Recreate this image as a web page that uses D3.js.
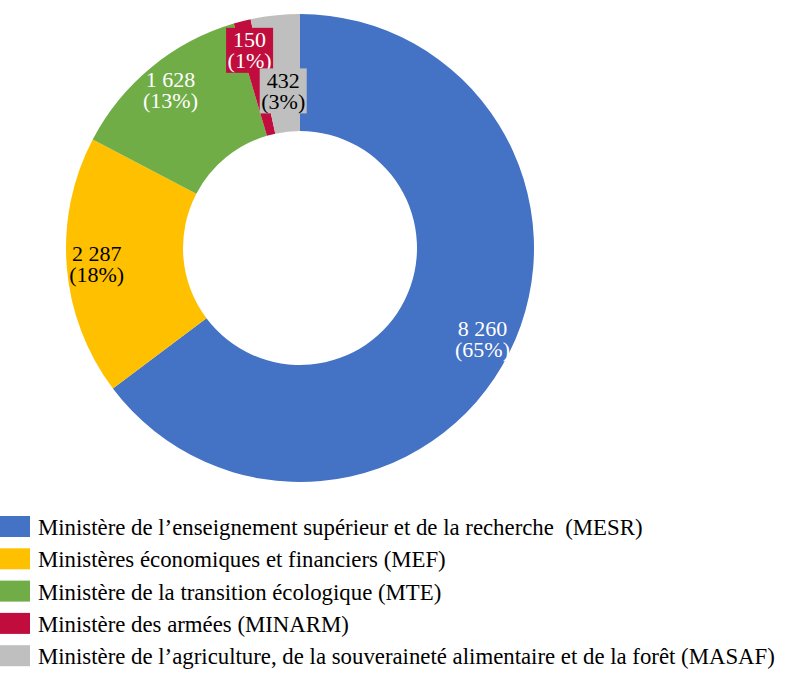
<!DOCTYPE html>
<html>
<head>
<meta charset="utf-8">
<script src="https://cdn.jsdelivr.net/npm/d3@7"></script>
<style>
  body { margin: 0; background: #fff; }
  svg text { font-family: "Liberation Serif", serif; }
</style>
</head>
<body>
<svg id="chart"></svg>
<script>
// Effectifs par ministère
const codes = ["MESR", "MEF", "MTE", "MINARM", "MASAF"];
const labels = [
    "Ministère de l\u2019enseignement supérieur et de la recherche  (MESR)",
    "Ministères économiques et financiers (MEF)",
    "Ministère de la transition écologique (MTE)",
    "Ministère des armées (MINARM)",
    "Ministère de l\u2019agriculture, de la souveraineté alimentaire et de la forêt (MASAF)",
];
const values = [8260, 2287, 1628, 150, 432];
const colors = ["#4472C4", "#FFC000", "#70AD47", "#C00D3E", "#BFBFBF"];
const labelColors = ["#fff", "#000", "#fff", "#fff", "#000"];

const width = 787;
const height = 681;
const cx = 300, cy = 248;
const outerR = 234, innerR = 117;

const svg = d3.select("#chart").attr("width", width).attr("height", height);

const data = codes.map((c, i) => ({ code: c, label: labels[i], value: values[i], i }));
const total = d3.sum(values);

const pie = d3.pie().sort(null).value(d => d.value);
const arcs = pie(data);

const arc = d3.arc().innerRadius(innerR).outerRadius(outerR);

const g = svg.append("g").attr("transform", `translate(${cx},${cy})`);

g.selectAll("path")
    .data(arcs)
    .enter()
    .append("path")
    .attr("d", arc)
    .attr("fill", d => colors[d.data.i]);

// étiquettes : rayon de placement (MASAF rapproché du centre pour éviter le chevauchement)
const labelR = d => (d.data.code === "MASAF" ? 158 : 204);
const boxed = ["MINARM", "MASAF"];
const fmt = v => d3.format(",")(v).replace(/,/g, " ");

arcs.forEach(d => {
    const a = (d.startAngle + d.endAngle) / 2;
    const r = labelR(d);
    const x = r * Math.sin(a);
    const y = -r * Math.cos(a);
    const lg = g.append("g").attr("transform", `translate(${x},${y})`);
    if (boxed.includes(d.data.code)) {
        lg.append("rect")
            .attr("x", -23.5)
            .attr("y", -22.5)
            .attr("width", 47)
            .attr("height", 45)
            .attr("fill", colors[d.data.i]);
    }
    const t = lg.append("text")
        .attr("text-anchor", "middle")
        .attr("fill", labelColors[d.data.i])
        .style("font-size", "22px");
    t.append("tspan").attr("x", 0).attr("y", -3).text(fmt(d.data.value));
    t.append("tspan").attr("x", 0).attr("y", 18).text(`(${Math.round(d.data.value / total * 100)}%)`);
});

// légende
const legend = svg.append("g").attr("transform", "translate(0,516)");
const item = legend.selectAll("g")
    .data(data)
    .enter()
    .append("g")
    .attr("transform", (d, i) => `translate(0,${i * 32.3})`);
item.append("rect")
    .attr("width", 30)
    .attr("height", 21)
    .attr("fill", d => colors[d.i]);
item.append("text")
    .attr("x", 38)
    .attr("y", 19)
    .style("font-size", "22.8px")
    .style("white-space", "pre")
    .attr("fill", "#000")
    .text(d => d.label);
</script>
</body>
</html>
